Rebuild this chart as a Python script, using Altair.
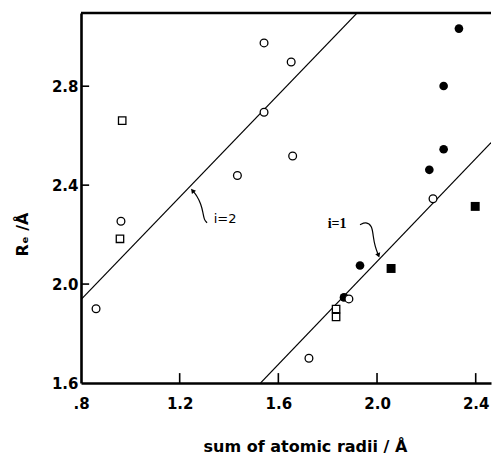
import altair as alt
import pandas as pd

# ---- data ----
open_circle_x = [0.861, 0.962, 1.434, 1.542, 1.542, 1.652, 1.658, 1.724, 1.886, 2.227]
open_circle_y = [1.900, 2.254, 2.439, 2.975, 2.695, 2.898, 2.518, 1.700, 1.940, 2.345]

open_square_x = [0.967, 0.958, 1.834, 1.834]
open_square_y = [2.661, 2.183, 1.899, 1.867]

filled_circle_x = [1.866, 1.931, 2.212, 2.270, 2.270, 2.332]
filled_circle_y = [1.946, 2.075, 2.462, 2.545, 2.801, 3.033]

filled_square_x = [2.057, 2.398]
filled_square_y = [2.063, 2.314]

# fitted lines (end points)
line_i2_x = [0.800, 1.918]
line_i2_y = [1.937, 3.095]
line_i1_x = [1.528, 2.462]
line_i1_y = [1.600, 2.572]

# annotation curves
arrow_i2_x = [1.311, 1.299, 1.295, 1.286, 1.270, 1.252]
arrow_i2_y = [2.248, 2.260, 2.288, 2.324, 2.357, 2.378]
arrow_i1_x = [1.931, 1.955, 1.980, 1.984, 1.992, 2.006]
arrow_i1_y = [2.240, 2.252, 2.236, 2.195, 2.151, 2.116]

label_text = ["i=2", "i=1"]
label_x = [1.384, 1.838]
label_y = [2.264, 2.244]

x_ticks = [0.8, 1.2, 1.6, 2.0, 2.4]
y_ticks = [1.6, 2.0, 2.4, 2.8]
x_domain = [0.8, 2.462]
y_domain = [1.6, 3.096]

FONT = "DejaVu Sans"

xs = alt.Scale(domain=x_domain, nice=False, zero=False)
ys = alt.Scale(domain=y_domain, nice=False, zero=False)

x_axis = alt.Axis(values=x_ticks, title="sum of atomic radii / Å",
                  labelExpr="datum.value < 1 ? '.8' : format(datum.value, '.1f')",
                  ticks=False, grid=False, domainColor="black", domainWidth=2.6,
                  labelFlush=False, labelOverlap=False,
                  labelFont=FONT, labelFontWeight="bold", labelFontSize=15, labelColor="black",
                  labelPadding=13,
                  titleFont=FONT, titleFontWeight="bold", titleFontSize=16, titleColor="black",
                  titleX=224, titleY=68, titleBaseline="alphabetic", titleAnchor="middle")
y_axis = alt.Axis(values=y_ticks, title="Rₑ /Å", format=".1f",
                  ticks=False, grid=False, domainColor="black", domainWidth=2.6,
                  labelFlush=False, labelOverlap=False,
                  labelFont=FONT, labelFontWeight="bold", labelFontSize=15, labelColor="black",
                  labelPadding=3,
                  titleFont=FONT, titleFontWeight="bold", titleFontSize=16, titleColor="black",
                  titleAngle=-90, titleX=-59, titleY=221, titleAlign="center",
                  titleBaseline="middle", titleAnchor="middle")

lines_df = pd.DataFrame({
    "x": line_i2_x + line_i1_x,
    "y": line_i2_y + line_i1_y,
    "g": ["i2"] * 2 + ["i1"] * 2,
})
lines = alt.Chart(lines_df).mark_line(color="black", strokeWidth=1.1, clip=True).encode(
    x=alt.X("x:Q", scale=xs, axis=x_axis),
    y=alt.Y("y:Q", scale=ys, axis=y_axis),
    detail="g:N",
)

top_border = alt.Chart(pd.DataFrame({"y": [y_domain[1]]})).mark_rule(
    color="black", strokeWidth=2.6).encode(y=alt.Y("y:Q", scale=ys))

xt = pd.DataFrame({"x": x_ticks[1:], "y0": [y_domain[0]] * 4, "y1": [y_domain[0] + 0.04] * 4})
x_tick_rules = alt.Chart(xt).mark_rule(color="black", strokeWidth=1.6).encode(
    x=alt.X("x:Q", scale=xs), y=alt.Y("y0:Q", scale=ys), y2="y1:Q")
yt = pd.DataFrame({"y": y_ticks[1:], "x0": [x_domain[0]] * 3, "x1": [x_domain[0] + 0.033] * 3})
y_tick_rules = alt.Chart(yt).mark_rule(color="black", strokeWidth=1.6).encode(
    y=alt.Y("y:Q", scale=ys), x=alt.X("x0:Q", scale=xs), x2="x1:Q")

def pts(xv, yv, shape, filled, size):
    df = pd.DataFrame({"x": xv, "y": yv})
    if filled:
        m = alt.Chart(df).mark_point(shape=shape, size=size, filled=True, color="black", opacity=1)
    else:
        m = alt.Chart(df).mark_point(shape=shape, size=size, filled=True, fill="white",
                                     stroke="black", strokeWidth=1.3, opacity=1)
    return m.encode(x=alt.X("x:Q", scale=xs), y=alt.Y("y:Q", scale=ys))

fc = pts(filled_circle_x, filled_circle_y, "circle", True, 75)
fsq = pts(filled_square_x, filled_square_y, "square", True, 80)
oc = pts(open_circle_x, open_circle_y, "circle", False, 60)
osq = pts(open_square_x, open_square_y, "square", False, 55)

arr_df = pd.DataFrame({
    "x": arrow_i2_x + arrow_i1_x,
    "y": arrow_i2_y + arrow_i1_y,
    "g": ["a2"] * len(arrow_i2_x) + ["a1"] * len(arrow_i1_x),
    "o": list(range(len(arrow_i2_x))) + list(range(len(arrow_i1_x))),
})
arrows = alt.Chart(arr_df).mark_line(color="black", strokeWidth=1.2, interpolate="basis").encode(
    x=alt.X("x:Q", scale=xs), y=alt.Y("y:Q", scale=ys), detail="g:N", order="o:Q")

head_df = pd.DataFrame({"x": [arrow_i2_x[-1], arrow_i1_x[-1]],
                        "y": [arrow_i2_y[-1], arrow_i1_y[-1]],
                        "a": [320, 160]})
heads = alt.Chart(head_df).mark_point(shape="triangle-up", size=28, filled=True,
                                      color="black", opacity=1).encode(
    x=alt.X("x:Q", scale=xs), y=alt.Y("y:Q", scale=ys), angle=alt.Angle("a:Q", scale=None))

t2 = alt.Chart(pd.DataFrame({"x": [label_x[0]], "y": [label_y[0]], "t": [label_text[0]]})).mark_text(
    font=FONT, fontSize=13, color="black", align="center", baseline="middle").encode(
    x=alt.X("x:Q", scale=xs), y=alt.Y("y:Q", scale=ys), text="t:N")
t1 = alt.Chart(pd.DataFrame({"x": [label_x[1]], "y": [label_y[1]], "t": [label_text[1]]})).mark_text(
    font="Liberation Serif", fontSize=14, fontWeight="bold", color="black", align="center",
    baseline="middle").encode(
    x=alt.X("x:Q", scale=xs), y=alt.Y("y:Q", scale=ys), text="t:N")

chart = alt.layer(lines, top_border, x_tick_rules, y_tick_rules, arrows, heads,
                  fc, fsq, oc, osq, t2, t1).properties(
    width=410, height=370,
    autosize=alt.AutoSizeParams(type="none"),
    padding={"left": 81, "top": 13, "right": 1, "bottom": 71},
    background="white",
).configure_view(stroke=None)

chart.save("out.html", embed_options={"renderer": "svg", "actions": False})
